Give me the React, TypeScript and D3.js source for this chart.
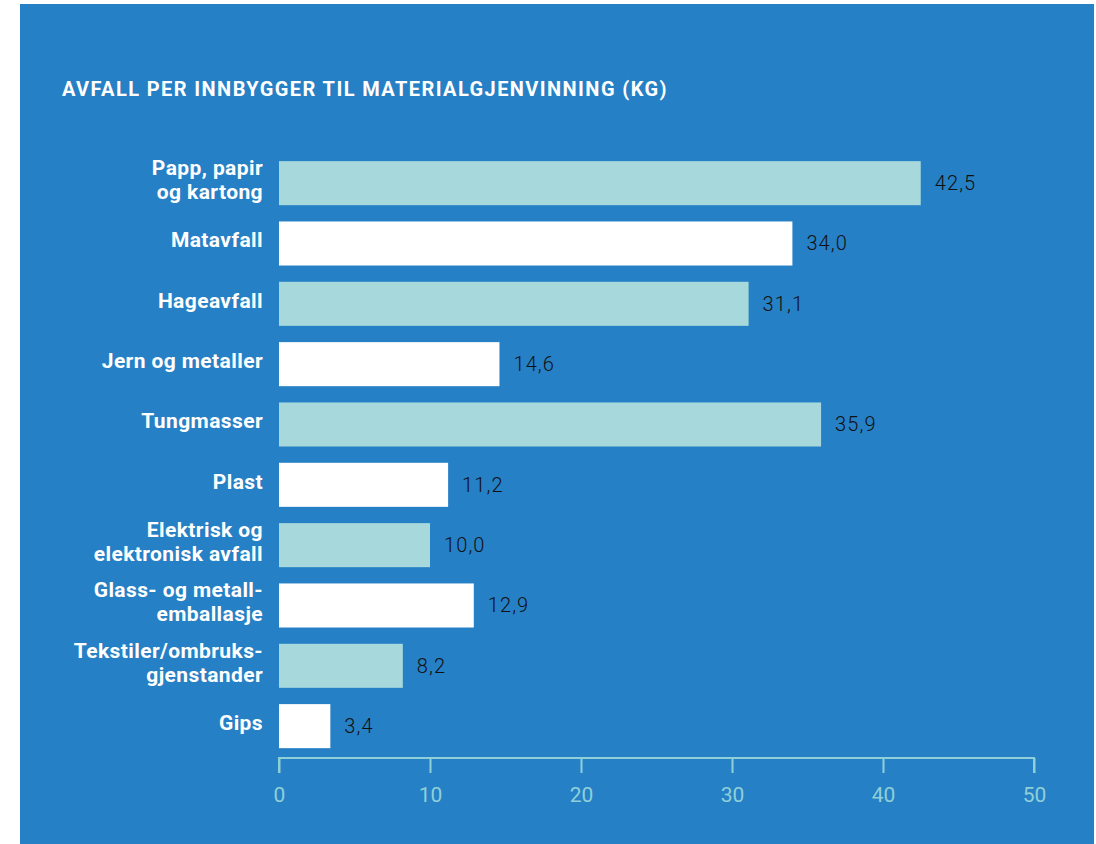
import * as d3 from "d3";
import { useEffect, useRef } from "react";

const categories = [
  ["Papp, papir", "og kartong"],
  ["Matavfall"],
  ["Hageavfall"],
  ["Jern og metaller"],
  ["Tungmasser"],
  ["Plast"],
  ["Elektrisk og", "elektronisk avfall"],
  ["Glass- og metall-", "emballasje"],
  ["Tekstiler/ombruks-", "gjenstander"],
  ["Gips"],
];
const values = [42.5, 34.0, 31.1, 14.6, 35.9, 11.2, 10.0, 12.9, 8.2, 3.4];
const barColors = ["#a6d8dc", "#ffffff"];
const ticks = [0, 10, 20, 30, 40, 50];
const title = "AVFALL PER INNBYGGER TIL MATERIALGJENVINNING (KG)";

const W = 1096, H = 844;

const App = () => {
  const ref: any = useRef();

  useEffect(() => {
    const svg = d3.select(ref.current);
    svg.selectAll("*").remove();

    const font = "Roboto, 'Liberation Sans', sans-serif";

    // background panel
    svg.append("rect")
      .attr("x", 20).attr("y", 4)
      .attr("width", 1074).attr("height", H - 4)
      .attr("fill", "#2680c5");

    const tt = svg.append("text")
      .attr("x", 62).attr("y", 96)
      .attr("fill", "#fff")
      .attr("font-family", font)
      .attr("font-weight", 700)
      .attr("font-size", 20)
      .text(title);
    // stretch title to the width seen in the original
    const tw = (tt.node() as any).getComputedTextLength();
    tt.attr("letter-spacing", (606 - tw) / title.length);

    const x = d3.scaleLinear().domain([0, 50]).range([279, 1034]);
    const idx = values.map((_, i) => i);
    const y = d3.scaleBand<number>()
      .domain(idx)
      .range([153, 756.3])
      .paddingInner(0.27)
      .paddingOuter(0.135);

    const g = svg.append("g");

    g.selectAll("rect.bar")
      .data(idx)
      .join("rect")
      .attr("class", "bar")
      .attr("x", x(0))
      .attr("y", (i) => y(i)!)
      .attr("width", (i) => x(values[i]) - x(0))
      .attr("height", y.bandwidth())
      .attr("fill", (i) => barColors[i % 2]);

    const fmt = (v: number) => v.toFixed(1).replace(".", ",");

    g.selectAll("text.val")
      .data(idx)
      .join("text")
      .attr("class", "val")
      .attr("x", (i) => x(values[i]) + 14)
      .attr("y", (i) => y(i)! + y.bandwidth() / 2 + 7)
      .attr("fill", "#111")
      .attr("font-family", font)
      .attr("font-weight", 300)
      .attr("font-size", 20)
      .attr("letter-spacing", 1.1)
      .text((i) => fmt(values[i]));

    const lbl = g.selectAll("text.cat")
      .data(idx)
      .join("text")
      .attr("class", "cat")
      .attr("text-anchor", "end")
      .attr("fill", "#fff")
      .attr("font-family", font)
      .attr("font-weight", 700)
      .attr("font-size", 21)
      .attr("letter-spacing", 0.4)
      .attr("y", (i) => y(i)! + y.bandwidth() / 2);

    lbl.each(function (i) {
      const lines = categories[i];
      const t = d3.select(this);
      const lh = 24;
      lines.forEach((line, k) => {
        t.append("tspan")
          .attr("x", 263)
          .attr("dy", k === 0 ? (-(lines.length - 1) * lh) / 2 + 3.7 : lh)
          .text(line);
      });
    });

    // axis
    const axisColor = "#8fd0d8";
    const axis = svg.append("g").attr("transform", "translate(0,758)");
    axis.call(d3.axisBottom(x).tickValues(ticks).tickSize(15).tickPadding(10).tickSizeOuter(0));
    axis.select(".domain").attr("stroke", axisColor).attr("stroke-width", 2)
      .attr("d", `M${x(0)},15V0H${x(50)}V15`);
    axis.selectAll(".tick line").attr("stroke", axisColor).attr("stroke-width", 2)
      .attr("y1", 0).attr("y2", 15);
    axis.selectAll(".tick text")
      .attr("fill", axisColor)
      .attr("font-family", font)
      .attr("font-size", 21)
      .attr("dy", null)
      .attr("y", 44);
  }, []);

  return (
    <svg ref={ref} width={W} height={H} style={{ display: "block", position: "absolute", left: 0, top: 0 }} />
  );
};

export default App;
